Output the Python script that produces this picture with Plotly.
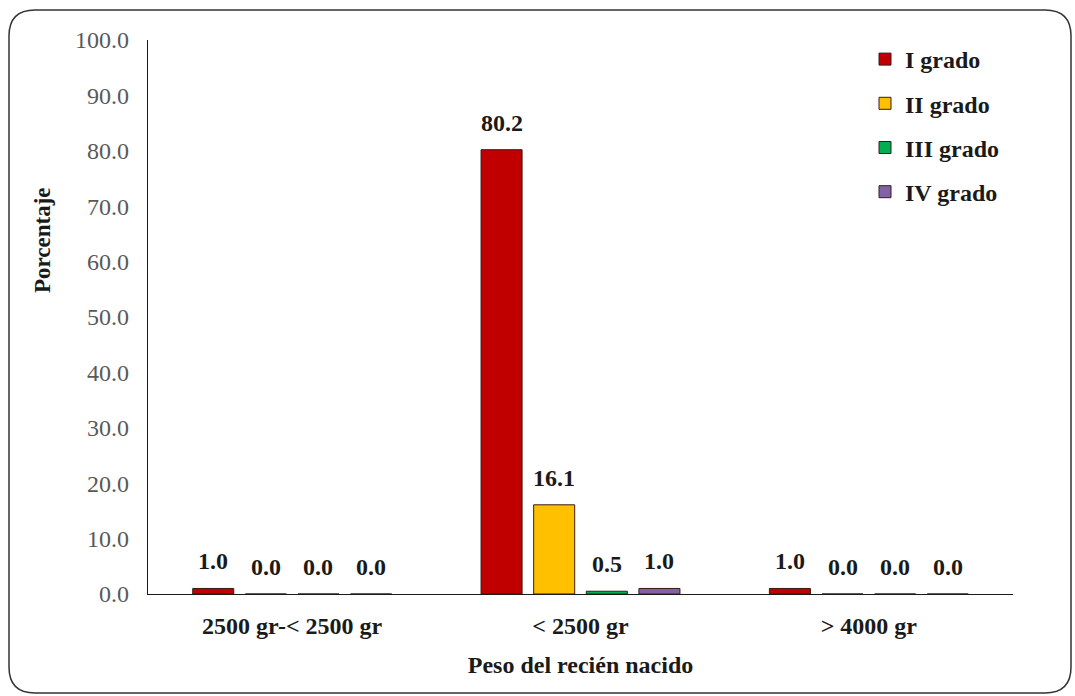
import plotly.graph_objects as go

# Data
categories = ["2500 gr-< 2500 gr", "< 2500 gr", "> 4000 gr"]
series_names = ["I grado", "II grado", "III grado", "IV grado"]
values_i = [1.0, 80.2, 1.0]
values_ii = [0.0, 16.1, 0.0]
values_iii = [0.0, 0.5, 0.0]
values_iv = [0.0, 1.0, 0.0]
y_ticks = [0, 10, 20, 30, 40, 50, 60, 70, 80, 90, 100]

colors = ["#C00000", "#FFC000", "#00B050", "#8064A2"]
all_values = [values_i, values_ii, values_iii, values_iv]

W, H = 1075, 696
ML, MR, MT, MB = 148, 62, 40, 102
serif = "Liberation Serif, Times New Roman, serif"
BARGAP, GROUPGAP = 0.27, 0.22
FS = 24

fig = go.Figure()
for name, vals, col in zip(series_names, all_values, colors):
    fig.add_trace(go.Bar(
        x=categories,
        y=vals,
        name=name,
        legendgroup=name,
        marker=dict(color=col, line=dict(color="#3a1a1a", width=1)),
    ))

# Value labels above each bar, placed at the bar's slot within its group
n = len(series_names)
slot = (1 - BARGAP) / n
annotations = []
for k, vals in enumerate(all_values):
    for i, v in enumerate(vals):
        annotations.append(dict(
            x=i + (k - (n - 1) / 2) * slot, y=v, xref="x", yref="y",
            text=f"<b>{v:.1f}</b>", showarrow=False,
            yanchor="bottom", yshift=12,
            font=dict(family=serif, size=FS, color="#1a1a1a"),
        ))

pw, ph = W - ML - MR, H - MT - MB
def px(x):
    return (x - ML) / pw
def py(y):
    return (H - MB - y) / ph

# Y-axis title
annotations.append(dict(
    x=px(42), y=py(240), xref="paper", yref="paper",
    text="<b>Porcentaje</b>", textangle=-90, showarrow=False,
    xanchor="center", yanchor="middle",
    font=dict(family=serif, size=23, color="#1a1a1a"),
))

# Rounded frame around the whole chart
x0, x1, y0, y1 = 9, 1071, 10, 693
r = 26
rx, ry = r / pw, r / ph
X0, X1, Y0, Y1 = px(x0), px(x1), py(y0), py(y1)
path = (
    f"M {X0+rx},{Y0} L {X1-rx},{Y0} Q {X1},{Y0} {X1},{Y0-ry} "
    f"L {X1},{Y1+ry} Q {X1},{Y1} {X1-rx},{Y1} "
    f"L {X0+rx},{Y1} Q {X0},{Y1} {X0},{Y1+ry} "
    f"L {X0},{Y0-ry} Q {X0},{Y0} {X0+rx},{Y0} Z"
)

fig.update_layout(
    width=W,
    height=H,
    margin=dict(l=ML, r=MR, t=MT, b=MB),
    paper_bgcolor="white",
    plot_bgcolor="white",
    barmode="group",
    bargap=BARGAP,
    bargroupgap=GROUPGAP,
    font=dict(family=serif, size=FS, color="#1a1a1a"),
    annotations=annotations,
    shapes=[dict(type="path", path=path, xref="paper", yref="paper",
                 line=dict(color="#333333", width=1.5), layer="below")],
    legend=dict(
        x=px(865), y=py(37), xanchor="left", yanchor="top",
        font=dict(family=serif, size=FS, color="#1a1a1a", weight="bold"),
        bgcolor="rgba(0,0,0,0)",
        tracegroupgap=10,
        traceorder="grouped",
        itemwidth=30,
    ),
    xaxis=dict(
        showline=True, linecolor="#1a1a1a", linewidth=1.3,
        ticks="", showgrid=False,
        ticklabelstandoff=10,
        tickfont=dict(family=serif, size=FS, color="#1a1a1a", weight="bold"),
        title=dict(text="<b>Peso del recién nacido</b>", standoff=18,
                   font=dict(family=serif, size=FS, color="#1a1a1a")),
    ),
    yaxis=dict(
        range=[0, 100], tickvals=y_ticks, tickformat=".1f",
        showline=True, linecolor="#1a1a1a", linewidth=1.3,
        ticks="", showgrid=False, zeroline=False,
        ticklabelstandoff=13,
        tickfont=dict(family=serif, size=FS, color="#595959"),
    ),
)

fig.write_html("out.html")
